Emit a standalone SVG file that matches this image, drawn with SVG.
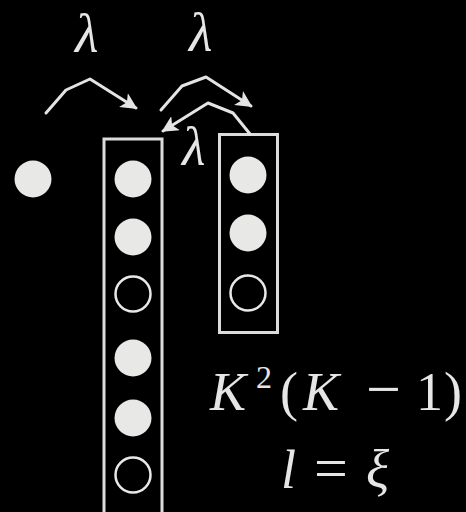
<svg xmlns="http://www.w3.org/2000/svg" width="466" height="512" viewBox="0 0 466 512">
<defs>
<style>
.full{fill:#e8e9e6;stroke:none}
.empty{fill:none;stroke:#e8e9e6;stroke-width:2.5}
.box{fill:none;stroke:#dcdcdc;stroke-width:3}
.arc{fill:none;stroke:#e4e4e4;stroke-width:3;stroke-linejoin:round;stroke-linecap:round}
.math{font-family:"Liberation Serif","DejaVu Serif",serif;fill:#e6e6e6}
.it{font-style:italic}
</style>
<marker id="ah" viewBox="0 0 10 10" refX="9" refY="5" markerWidth="5.5" markerHeight="5.5" markerUnits="strokeWidth" orient="auto">
<path d="M0,0 L10,5 L0,10 L2.5,5 Z" fill="#e4e4e4"/>
</marker>
</defs>
<rect width="466" height="512" fill="#000"/>
<g id="single">
<circle class="full" cx="33" cy="179" r="18.5"/>
</g>
<g id="tallBox">
<rect class="box" x="104" y="139" width="58" height="380"/>
<circle class="full" cx="133" cy="179" r="18.5"/>
<circle class="full" cx="133" cy="237" r="18.5"/>
<circle class="empty" cx="133" cy="294" r="17.5"/>
<circle class="full" cx="133" cy="358" r="18.5"/>
<circle class="full" cx="133" cy="418" r="18.5"/>
<circle class="empty" cx="133" cy="475" r="17.5"/>
</g>
<g id="shortBox">
<rect class="box" x="219.5" y="134.5" width="58" height="198"/>
<circle class="full" cx="248" cy="175" r="18.5"/>
<circle class="full" cx="248" cy="233" r="18.5"/>
<circle class="empty" cx="248" cy="293" r="17.5"/>
</g>
<g id="connectors">
<path class="arc" d="M46,113 L66,90 L90,79 L136,108" marker-end="url(#ah)"/>
<path class="arc" d="M161,110 L182,86 L206,77 L251,106" marker-end="url(#ah)"/>
<path class="arc" d="M250,134 L233,113 L208,103 L163,131" marker-end="url(#ah)"/>
</g>
<g id="labels">
<text class="math it" x="75" y="52" font-size="54">λ</text>
<text class="math it" x="189" y="51" font-size="54">λ</text>
<text class="math it" x="182" y="165" font-size="54">λ</text>
<text class="math" y="410" font-size="54"><tspan class="it" x="210">K</tspan><tspan x="256" y="388" font-size="32">2</tspan><tspan x="280" y="410">(</tspan><tspan class="it" x="303">K</tspan><tspan x="366" font-size="62">−</tspan><tspan x="416">1</tspan><tspan x="444">)</tspan></text>
<text class="math" y="488" font-size="54"><tspan class="it" x="281">l</tspan><tspan x="314" font-size="60">=</tspan><tspan class="it" x="366">ξ</tspan></text>
</g>
</svg>
